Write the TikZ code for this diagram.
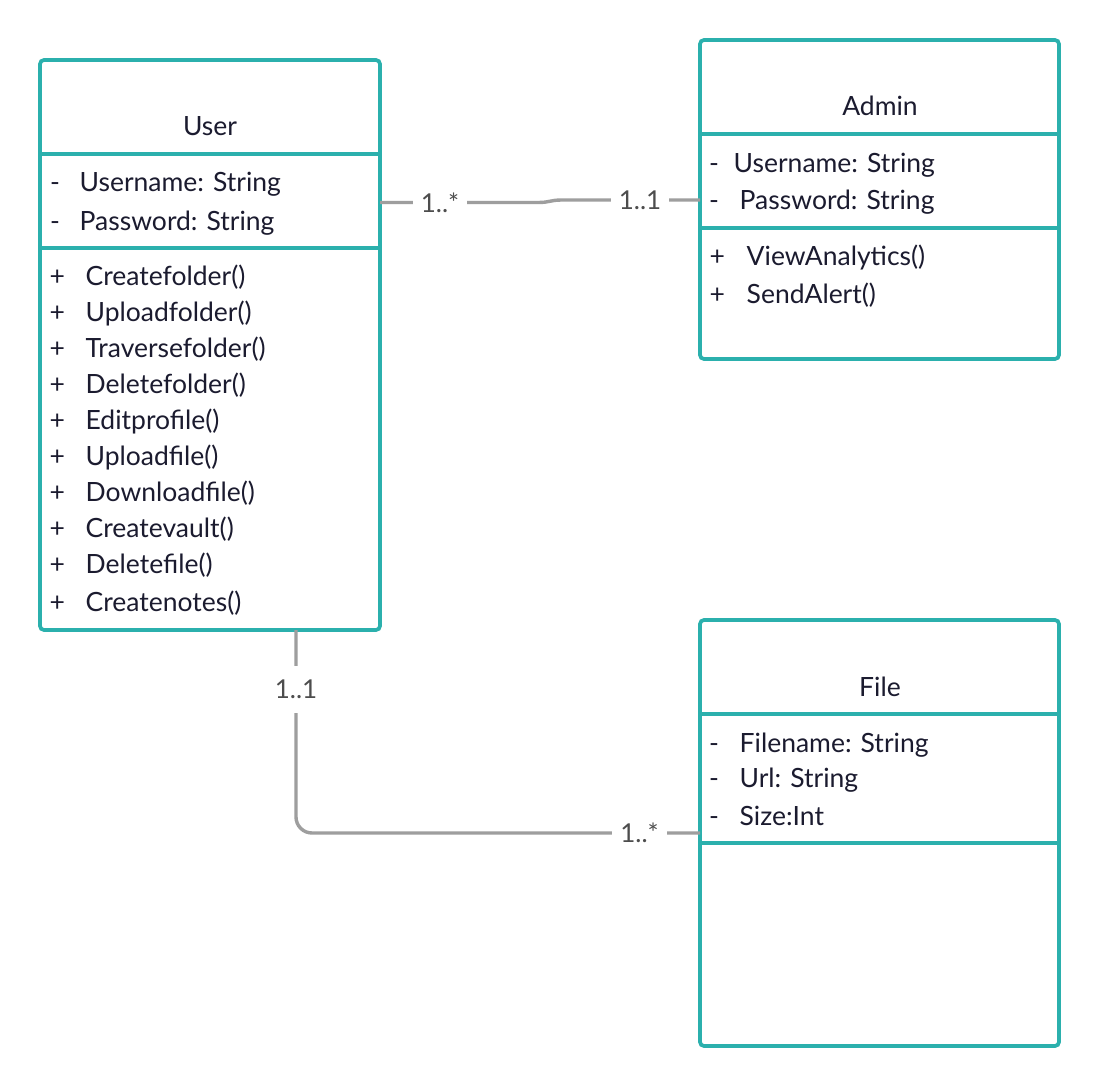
\documentclass[tikz,border=0pt]{standalone}
\usepackage{fontspec}
\setmainfont{Lato}
\definecolor{umlteal}{HTML}{2BB0AD}
\definecolor{conngray}{HTML}{9E9E9E}
\definecolor{labgray}{HTML}{4D4D4D}
\definecolor{ink}{HTML}{1B1B2F}
\tikzset{
  classbox/.style={draw=umlteal, line width=3.7pt, rounded corners=4pt, outer sep=0pt, inner sep=0pt, fill=white},
  divider/.style={draw=umlteal, line width=3.7pt},
  txt/.style={anchor=base west, inner sep=0pt, text=ink, font=\fontsize{26.5}{32}\selectfont},
  ttl/.style={anchor=base, inner sep=0pt, text=ink, font=\fontsize{26.5}{32}\selectfont},
  conn/.style={draw=conngray, line width=3.4pt},
  multh/.style={fill=white, text=labgray, font=\fontsize{26}{32}\selectfont, inner xsep=8pt, inner ysep=4pt},
  multv/.style={fill=white, text=labgray, font=\fontsize{26}{32}\selectfont, inner xsep=4pt, inner ysep=14.5pt}
}
\begin{document}
\begin{tikzpicture}[x=1pt,y=-1pt]
\useasboundingbox[fill=white] (0,0) rectangle (1100,1086);

% class boxes
\node[classbox, minimum width=340pt, minimum height=570pt] (user) at (210,345) {};
\node[classbox, minimum width=359pt, minimum height=319pt] (admin) at (879.5,199.5) {};
\node[classbox, minimum width=359pt, minimum height=426pt] (file) at (879.5,833) {};

% dividers
\draw[divider] ([yshift=-94pt]user.north west) -- ([yshift=-94pt]user.north east);
\draw[divider] ([yshift=-188pt]user.north west) -- ([yshift=-188pt]user.north east);
\draw[divider] ([yshift=-94pt]admin.north west) -- ([yshift=-94pt]admin.north east);
\draw[divider] ([yshift=-188pt]admin.north west) -- ([yshift=-188pt]admin.north east);
\draw[divider] ([yshift=-94pt]file.north west) -- ([yshift=-94pt]file.north east);
\draw[divider] ([yshift=-223pt]file.north west) -- ([yshift=-223pt]file.north east);

% titles
\node[ttl] (usertitle) at (210,136) {User};
\node[ttl] (admintitle) at (880,116) {Admin};
\node[ttl] (filetitle) at (880,696) {File};

% User attributes
\foreach \y/\t [count=\i] in {192/{Username: String}, 230/{Password: String}} {
  \node[txt] (uam\i) at (50,\y) {-};
  \node[txt] (ua\i) at (79.5,\y) {\t};
}
% User methods
\foreach \y/\t [count=\i] in {285/{Createfolder()}, 321/{Uploadfolder()}, 357/{Traversefolder()}, 393/{Deletefolder()}, 429/{Editprofile()}, 465/{Uploadfile()}, 501/{Downloadfile()}, 537/{Createvault()}, 573/{Deletefile()}, 611/{Createnotes()}} {
  \node[txt] (umm\i) at (49.5,\y) {+};
  \node[txt] (um\i) at (85.5,\y) {\t};
}

% Admin attributes
\node[txt] (aam1) at (709,173) {-};
\node[txt] (aa1) at (733.5,173) {Username: String};
\node[txt] (aam2) at (709,210) {-};
\node[txt] (aa2) at (739.5,210) {Password: String};
% Admin methods
\node[txt] (amm1) at (709.5,265) {+};
\node[txt] (am1) at (746.5,265) {ViewAnalytics()};
\node[txt] (amm2) at (709.5,303) {+};
\node[txt] (am2) at (746.5,303) {SendAlert()};

% File attributes
\foreach \y/\t [count=\i] in {752/{Filename: String}, 787/{Url: String}, 825/{Size:Int}} {
  \node[txt] (fam\i) at (709,\y) {-};
  \node[txt] (fa\i) at (739.5,\y) {\t};
}

% connectors
\coordinate (ya) at (0,202.5);
\coordinate (yb) at (0,200);
\coordinate (xc) at (296,0);
\coordinate (yc) at (0,833);
\draw[conn] (user.east |- ya) -- (538,202.5) .. controls (550,202.5) and (550,200) .. (562,200) -- (admin.west |- yb);
\draw[conn, rounded corners=16pt] (user.south -| xc) |- (file.west |- yc);

% multiplicities
\node[multh] (m1) at (440,202.5) {1..*};
\node[multh] (m2) at (640,200) {1..1};
\node[multv] (m3) at (296,689.5) {1..1};
\node[multh] (m4) at (639.5,833) {1..*};
\end{tikzpicture}
\end{document}
